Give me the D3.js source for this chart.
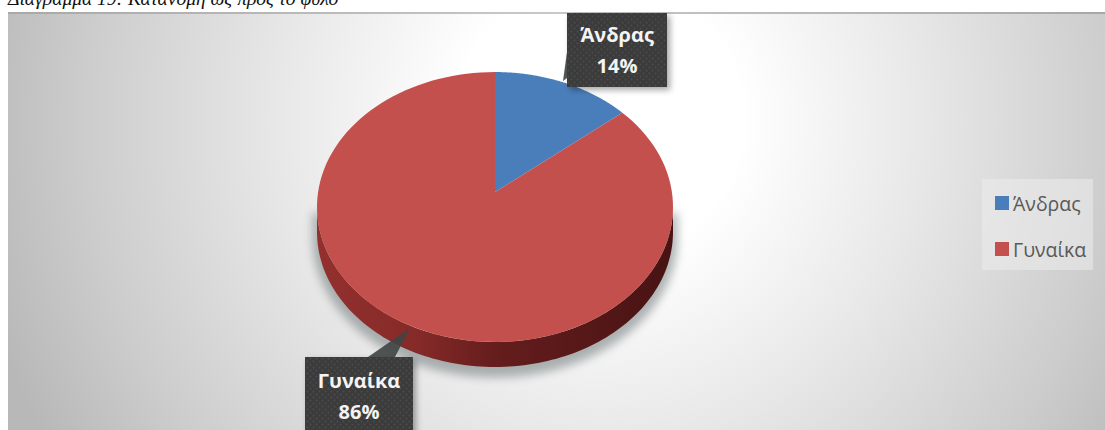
<!DOCTYPE html>
<html lang="el">
<head>
<meta charset="utf-8">
<script src="https://cdn.jsdelivr.net/npm/d3@7/dist/d3.min.js"></script>
<style>
  html, body { margin: 0; padding: 0; background: #fff; overflow: hidden; }
  svg { display: block; }
</style>
</head>
<body>
<svg id="chart" width="1105" height="430"></svg>
<script>
const captionText = "Διάγραμμα 19: Κατανομή ως προς το φύλο";
const categories = ["Άνδρας", "Γυναίκα"];
const shares = [14, 86];
const sliceColors = ["#4a7ebb", "#c4504e"];

const W = 1105, H = 430;
const panel = { x: 8, y: 12 };
const svg = d3.select("#chart");
const defs = svg.append("defs");

// Panel background: soft radial glow fading to grey corners
const glow = defs.append("radialGradient").attr("id", "panelGlow")
  .attr("gradientUnits", "userSpaceOnUse")
  .attr("cx", 600).attr("cy", 120).attr("r", 640);
[[0, "#ffffff"], [0.22, "#ffffff"], [0.5, "#e8e8e8"], [0.8, "#cdcdcd"], [1, "#b8b8b8"]]
  .forEach(([o, c]) => glow.append("stop").attr("offset", o).attr("stop-color", c));

const topEdge = defs.append("linearGradient").attr("id", "topEdge");
topEdge.append("stop").attr("offset", 0).attr("stop-color", "#a8a8a8");
topEdge.append("stop").attr("offset", 0.5).attr("stop-color", "#c8c8c8");
topEdge.append("stop").attr("offset", 1).attr("stop-color", "#a8a8a8");

// Side wall of the disc, lit from the left
const wall = defs.append("linearGradient").attr("id", "wallShade")
  .attr("gradientUnits", "userSpaceOnUse").attr("x1", 318).attr("x2", 673).attr("y1", 0).attr("y2", 0);
[[0, "#93302e"], [0.28, "#852a28"], [0.5, "#651d1d"], [0.75, "#571818"], [1, "#481313"]]
  .forEach(([o, c]) => wall.append("stop").attr("offset", o).attr("stop-color", c));

defs.append("filter").attr("id", "softShadow")
  .attr("x", "-20%").attr("y", "-20%").attr("width", "140%").attr("height", "140%")
  .append("feGaussianBlur").attr("stdDeviation", 5);

const boxShadow = defs.append("filter").attr("id", "boxShadow")
  .attr("x", "-20%").attr("y", "-20%").attr("width", "140%").attr("height", "140%");
boxShadow.append("feDropShadow").attr("dx", 3).attr("dy", 3).attr("stdDeviation", 3)
  .attr("flood-color", "#000").attr("flood-opacity", 0.35);

// Fine dotted texture of the callout boxes
const dots = defs.append("pattern").attr("id", "calloutDots")
  .attr("patternUnits", "userSpaceOnUse").attr("width", 6).attr("height", 6);
dots.append("rect").attr("width", 6).attr("height", 6).attr("fill", "#3b3b3b");
dots.append("circle").attr("cx", 1.5).attr("cy", 1.5).attr("r", 1).attr("fill", "#4b4b4b");
dots.append("circle").attr("cx", 4.5).attr("cy", 4.5).attr("r", 1).attr("fill", "#4b4b4b");

defs.append("clipPath").attr("id", "panelClip")
  .append("rect").attr("x", panel.x).attr("y", panel.y).attr("width", W - panel.x).attr("height", H - panel.y);

// Caption running off the top of the page
svg.append("text").attr("x", 8).attr("y", 5)
  .attr("font-family", "Liberation Serif").attr("font-style", "italic")
  .attr("font-size", 19.5).attr("fill", "#111").text(captionText);

svg.append("rect").attr("x", panel.x).attr("y", panel.y)
  .attr("width", W - panel.x).attr("height", H - panel.y).attr("fill", "url(#panelGlow)");
svg.append("rect").attr("x", panel.x).attr("y", panel.y)
  .attr("width", W - panel.x).attr("height", 2).attr("fill", "url(#topEdge)");

// Tilted disc: unit circle seen through a perspective divide
const depth = 1 / 9;
const sx = d3.scaleLinear().domain([-1, 1]).range([495 - 176.9, 495 + 176.9]);
const sy = d3.scaleLinear().domain([-1, 1]).range([192 - 133.3, 192 + 133.3]);
const project = (u, v, drop = 0) => {
  const w = 1 - depth * v;
  return [sx(u / w), sy(v / w) + drop];
};
const rim = (a, drop = 0) => project(Math.sin(a), -Math.cos(a), drop);
const sweep = (a0, a1, drop = 0) =>
  d3.range(0, 121).map(i => rim(a0 + (a1 - a0) * i / 120, drop));
const line = d3.line();

// Visible side wall runs between the two silhouette angles
const thickness = 25;
const wallStart = Math.acos(-depth), wallEnd = 2 * Math.PI - wallStart;
const wallOutline = line([...sweep(wallStart, wallEnd), ...sweep(wallEnd, wallStart, thickness)]) + "Z";

svg.append("path").attr("d", wallOutline)
  .attr("transform", "translate(0,6)")
  .attr("fill", "#7e8586").attr("stroke", "#7e8586").attr("stroke-width", 9)
  .attr("opacity", 0.62).attr("filter", "url(#softShadow)");
svg.append("path").attr("d", wallOutline).attr("fill", "url(#wallShade)");

const pie = d3.pie().sort(null).value(d => d);
const arcs = pie(shares);
svg.append("g").selectAll("path").data(arcs).join("path")
  .attr("fill", (d, i) => sliceColors[i])
  .attr("d", d => line([project(0, 0), ...sweep(d.startAngle, d.endAngle)]) + "Z");

// Legend
const legend = svg.append("g");
legend.append("rect").attr("x", 982).attr("y", 179).attr("width", 111).attr("height", 91)
  .attr("fill", "#ececec").attr("fill-opacity", 0.55);
const legendY = d3.scalePoint().domain(categories).range([203, 249]);
categories.forEach((c, i) => {
  legend.append("rect").attr("x", 995).attr("y", legendY(c) - 7).attr("width", 14).attr("height", 14)
    .attr("fill", sliceColors[i]);
  legend.append("text").attr("x", 1013).attr("y", legendY(c) + 8)
    .attr("font-family", "Open Sans").attr("font-size", 19.5).attr("fill", "#595959").text(c);
});

// Callouts with value labels
const callouts = [
  { box: [567, 13, 100, 74], tip: [563, 81], base: [[567, 52], [567, 78]], lines: [42, 73] },
  { box: [305, 357, 108, 90], tip: [410, 328], base: [[368, 357], [395, 357]], lines: [388, 419] }
];
const labels = svg.append("g").attr("clip-path", "url(#panelClip)");
callouts.forEach((c, i) => {
  const [x, y, w, h] = c.box;
  const g = labels.append("g");
  g.append("path").attr("d", line([c.tip, ...c.base]) + "Z").attr("fill", "#3f4544").attr("opacity", 0.9);
  g.append("rect").attr("x", x).attr("y", y).attr("width", w).attr("height", h)
    .attr("fill", "url(#calloutDots)").attr("filter", "url(#boxShadow)");
  [categories[i], shares[i] + "%"].forEach((t, j) => {
    g.append("text").attr("x", x + w / 2).attr("y", c.lines[j]).attr("text-anchor", "middle")
      .attr("font-family", "Open Sans").attr("font-weight", 700).attr("font-size", 20)
      .attr("fill", "#f4f4f4").text(t);
  });
});
</script>
</body>
</html>
